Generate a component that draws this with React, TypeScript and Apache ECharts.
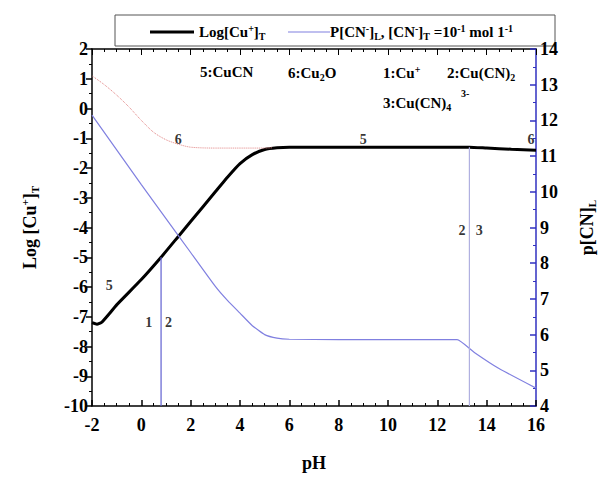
import React, { useEffect, useRef } from "react";
import * as echarts from "echarts";

const cuPH = [-2, -1.8, -1.6, -1.3, -1, 0, 0.8, 1.5, 2, 3, 3.5, 4, 4.5, 5, 5.5, 6, 8, 10, 12, 13.3, 14, 15, 16];
const cuLog = [-7.2, -7.25, -7.18, -6.9, -6.6, -5.75, -5.0, -4.3, -3.8, -2.8, -2.3, -1.85, -1.55, -1.38, -1.32, -1.3, -1.3, -1.3, -1.3, -1.3, -1.33, -1.37, -1.4];
const cnPH = [-2, 0, 1, 2, 3, 3.5, 4, 4.5, 5, 5.5, 6, 8, 10, 12.8, 13.5, 14.5, 16];
const cnP = [12.15, 10.2, 9.25, 8.3, 7.35, 6.95, 6.6, 6.25, 6.0, 5.9, 5.87, 5.86, 5.86, 5.86, 5.5, 5.05, 4.5];
const dotPH = [-2, -1.5, -1, -0.5, 0, 0.5, 1, 1.5, 2, 3, 4, 5, 5.3];
const dotLog = [1.1, 0.8, 0.45, 0.05, -0.4, -0.8, -1.05, -1.2, -1.3, -1.33, -1.33, -1.33, -1.32];
const vlines = [[0.8, -5.0], [13.3, -1.3]];
const labels: [number, number, string][] = [
  [-1.3, -5.95, "5"], [0.3, -7.2, "1"], [1.1, -7.2, "2"],
  [1.5, -1.05, "6"], [9, -1.05, "5"], [15.8, -1.05, "6"],
  [13, -4.1, "2"], [13.7, -4.1, "3"],
];

const F = "'Liberation Serif', 'Times New Roman', serif";

export default function App() {
  const ref = useRef<HTMLDivElement>(null);
  useEffect(() => {
    const chart = echarts.init(ref.current!, null, { renderer: "svg" });
    const base = { fontFamily: F, fontWeight: "bold", color: "#000" };
    const rich = {
      sup: { ...base, fontSize: 10, verticalAlign: "top", padding: [0, 0, 8, 0] },
      sub: { ...base, fontSize: 10, verticalAlign: "bottom", padding: [8, 0, 0, 0] },
      n: { ...base, fontSize: 15 },
      b: { ...base, fontSize: 18 },
      bsup: { ...base, fontSize: 11, verticalAlign: "top", padding: [0, 0, 10, 0] },
      bsub: { ...base, fontSize: 11, verticalAlign: "bottom", padding: [10, 0, 0, 0] },
    };
    const axisLine = { onZero: false, lineStyle: { color: "#000", width: 1.5 } };
    const lbl = { fontFamily: F, fontWeight: "bold", fontSize: 18, color: "#000" };
    chart.setOption({
      animation: false,
      grid: { left: 84, right: 57, top: 41, bottom: 71 },
      xAxis: [
        { type: "value", min: -2, max: 16, interval: 2, axisLine, axisTick: { inside: true, length: 6, lineStyle: { color: "#000", width: 1.5 } },
          minorTick: { show: true, splitNumber: 4, length: 3, lineStyle: { color: "#000" } },
          splitLine: { show: false }, axisLabel: { ...lbl, margin: 10 },
          name: "pH", nameLocation: "middle", nameGap: 48, nameTextStyle: { ...lbl } },
        { type: "value", position: "top", min: -2, max: 16, interval: 2, axisLine, axisTick: { inside: true, length: 6, lineStyle: { color: "#000" } },
          minorTick: { show: true, splitNumber: 4, length: 3, lineStyle: { color: "#000" } },
          splitLine: { show: false }, axisLabel: { show: false } },
      ],
      yAxis: [
        { type: "value", min: -10, max: 2, interval: 1, axisLine, axisTick: { length: 6, lineStyle: { color: "#000", width: 1.5 } },
          minorTick: { show: true, splitNumber: 2, length: 3, lineStyle: { color: "#000" } },
          splitLine: { show: false }, axisLabel: { ...lbl, margin: 4 },
          name: "{b|Log [Cu}{bsup|+}{b|]}{bsub|T}", nameLocation: "middle", nameGap: 52, nameRotate: 90,
          nameTextStyle: { rich } },
        { type: "value", min: 4, max: 14, interval: 1, position: "right", axisLine: { onZero: false, lineStyle: { color: "#3030c0", width: 1.5 } },
          axisTick: { inside: true, length: 6, lineStyle: { color: "#3030c0", width: 1.5 } },
          minorTick: { show: true, splitNumber: 2, length: 3, lineStyle: { color: "#3030c0" } },
          splitLine: { show: false }, axisLabel: { ...lbl, margin: 4 },
          name: "{b|p[CN]}{bsub|L}", nameLocation: "middle", nameGap: 40, nameRotate: 90, nameTextStyle: { rich } },
      ],
      series: [
        { type: "line", yAxisIndex: 0, showSymbol: false, smooth: 0.15, data: cuPH.map((x, i) => [x, cuLog[i]]),
          lineStyle: { color: "#000", width: 3 } },
        { type: "line", yAxisIndex: 1, showSymbol: false, smooth: 0.15, data: cnPH.map((x, i) => [x, cnP[i]]),
          lineStyle: { color: "#8080e0", width: 1.2 } },
        { type: "line", yAxisIndex: 0, showSymbol: false, smooth: 0.3, data: dotPH.map((x, i) => [x, dotLog[i]]),
          lineStyle: { color: "#e08080", width: 1, type: "dotted" } },
        ...vlines.map(([x, y]) => ({ type: "line", yAxisIndex: 0, showSymbol: false, data: [[x, -10], [x, y]],
          lineStyle: { color: x < 5 ? "#6060d0" : "#b0b0e0", width: 1.2 } })),
        { type: "scatter", yAxisIndex: 0, symbolSize: 0, data: labels.map(l => [l[0], l[1], l[2]]),
          label: { show: true, formatter: (p: any) => p.data[2], position: "inside", fontFamily: F, fontWeight: "bold", fontSize: 14, color: "#000" } },
      ],
      graphic: [
        { type: "rect", shape: { x: 107, y: 7, width: 440, height: 31 }, style: { fill: "#fff", stroke: "#555", lineWidth: 1 } },
        { type: "line", shape: { x1: 142, y1: 24, x2: 186, y2: 24 }, style: { stroke: "#000", lineWidth: 3 } },
        { type: "text", x: 191, y: 15, style: { text: "{n|Log[Cu}{sup|+}{n|]}{sub|T}", rich } },
        { type: "line", shape: { x1: 280, y1: 24, x2: 322, y2: 24 }, style: { stroke: "#8080e0", lineWidth: 1.2 } },
        { type: "text", x: 322, y: 15, style: { text: "{n|P[CN}{sup|-}{n|]}{sub|L}{n|, [CN}{sup|-}{n|]}{sub|T}{n| =10}{sup|-1}{n| mol 1}{sup|-1}", rich } },
        { type: "text", x: 192, y: 56, style: { text: "{n|5:CuCN}", rich } },
        { type: "text", x: 280, y: 56, style: { text: "{n|6:Cu}{sub|2}{n|O}", rich } },
        { type: "text", x: 375, y: 56, style: { text: "{n|1:Cu}{sup|+}", rich } },
        { type: "text", x: 439, y: 56, style: { text: "{n|2:Cu(CN)}{sub|2}", rich } },
        { type: "text", x: 375, y: 86, style: { text: "{n|3:Cu(CN)}{sub|4}", rich } },
        { type: "text", x: 453, y: 80, style: { text: "{sup|3-}", rich } },
      ],
    });
    return () => chart.dispose();
  }, []);
  return <div ref={ref} style={{ width: 597, height: 469 }} />;
}
